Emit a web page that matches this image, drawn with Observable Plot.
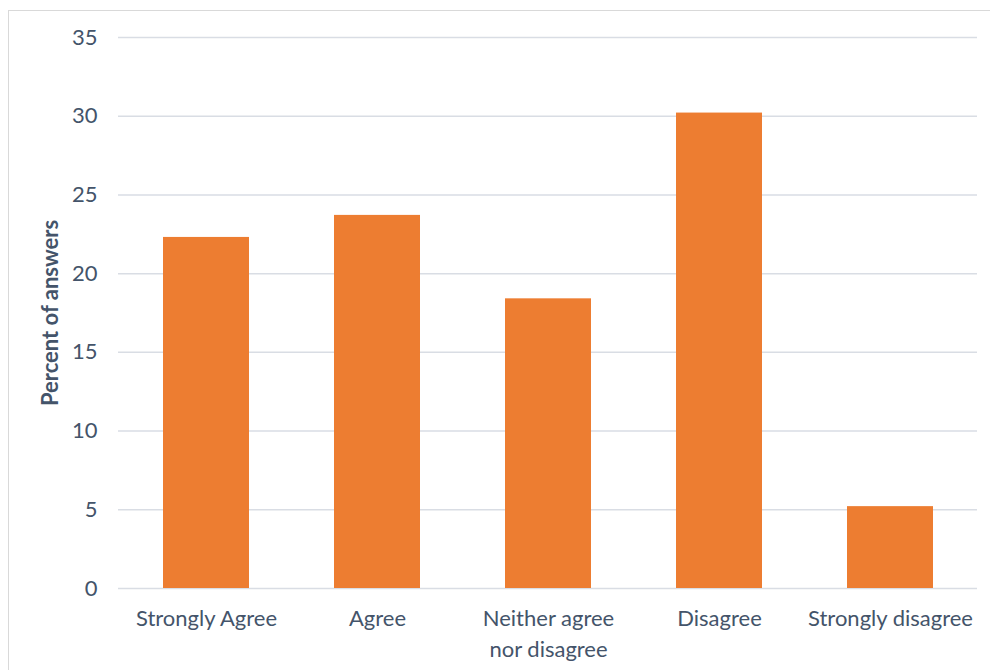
<!DOCTYPE html>
<html>
<head>
<meta charset="utf-8">
<script src="https://cdn.jsdelivr.net/npm/d3@7"></script>
<script src="https://cdn.jsdelivr.net/npm/@observablehq/plot@0.6"></script>
<style>
  html, body { margin: 0; padding: 0; background: #fff; }
  #wrap { position: relative; width: 990px; height: 670px; overflow: hidden; }
  #border { position: absolute; left: 8px; top: 10px; width: 1000px; height: 700px;
            border: 1.5px solid #d9d9d9; box-sizing: border-box; }
  #chart { position: absolute; left: 0; top: 0; }
</style>
</head>
<body>
<div id="wrap">
  <div id="border"></div>
  <div id="chart"></div>
</div>
<script>
// Survey responses: share of answers per category (percent)
const categories = ["Strongly Agree", "Agree", "Neither agree nor disagree", "Disagree", "Strongly disagree"];
const percents = [22.3, 23.7, 18.4, 30.2, 5.2];
const yTicks = [0, 5, 10, 15, 20, 25, 30, 35];
const tickLabels = {"Neither agree nor disagree": "Neither agree\nnor disagree"};

const data = categories.map((c, i) => ({category: c, value: percents[i]}));
const textColor = "#44546a";

const chart = Plot.plot({
  width: 990,
  height: 670,
  marginLeft: 118,
  marginRight: 13,
  marginTop: 37,
  marginBottom: 82,
  style: {fontFamily: "Lato, 'Open Sans', sans-serif", fontSize: "22px", color: textColor, background: "transparent"},
  x: {domain: categories, paddingInner: 0.5, paddingOuter: 0.25, label: null},
  y: {domain: [0, 35], ticks: yTicks, label: null},
  marks: [
    Plot.gridY(yTicks, {stroke: "#d9dde4", strokeOpacity: 1, strokeWidth: 1.5}),
    Plot.barY(data, {x: "category", y: "value", fill: "#ed7d31"}),
    Plot.axisY(yTicks, {tickSize: 0, tickPadding: 21, fill: textColor, fontSize: 22, label: null}),
    Plot.axisX({tickSize: 0, tickPadding: 15, fill: textColor, fontSize: 22, label: null,
                tickFormat: d => tickLabels[d] ?? d, lineHeight: 1.42}),
    Plot.text(["Percent of answers"], {
      frameAnchor: "left", dx: -68, rotate: -90, text: d => d, textAnchor: "middle",
      fontWeight: "bold", fontSize: 22, fill: textColor
    })
  ]
});
document.getElementById("chart").appendChild(chart);
</script>
</body>
</html>
